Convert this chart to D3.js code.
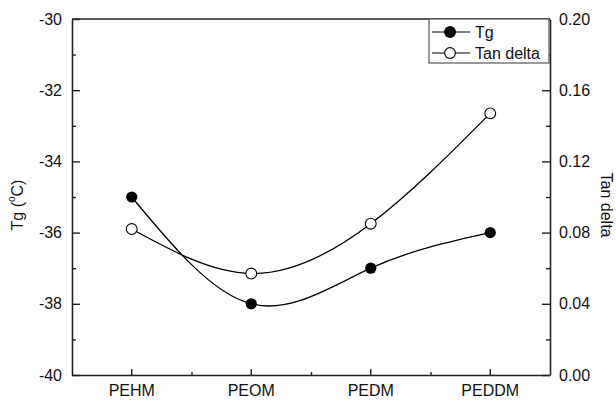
<!DOCTYPE html>
<html>
<head>
<meta charset="utf-8">
<script src="https://cdn.jsdelivr.net/npm/d3@7"></script>
<style>
  body { margin: 0; background: #fff; }
  svg { font-family: "Liberation Sans", Arial, sans-serif; }
</style>
</head>
<body>
<svg id="chart" width="616" height="401"></svg>
<script>
// Chart data
const categories = ["PEHM", "PEOM", "PEDM", "PEDDM"];
const tgValues = [-35, -38, -37, -36];
const tanDeltaValues = [0.082, 0.057, 0.085, 0.147];
const tgTicks = [-40, -38, -36, -34, -32, -30];
const tanTicks = [0.00, 0.04, 0.08, 0.12, 0.16, 0.20];

const svg = d3.select("#chart");
const margin = { left: 72, right: 66, top: 19, bottom: 26 };
const width = 616 - margin.left - margin.right;
const height = 401 - margin.top - margin.bottom;

const g = svg.append("g").attr("transform", `translate(${margin.left},${margin.top})`);

// Scales
const x = d3.scaleBand().domain(categories).range([0, width]).paddingInner(0).paddingOuter(0);
const xc = d => x(d) + x.bandwidth() / 2;
const yTg = d3.scaleLinear().domain([-40, -30]).range([height, 0]);
const yTan = d3.scaleLinear().domain([0, 0.2]).range([height, 0]);

const axisColor = "#222";
const fontSize = 16;

function styleAxis(sel) {
    sel.selectAll(".domain").attr("stroke", axisColor).attr("stroke-width", 1.6);
    sel.selectAll(".tick line").attr("stroke", axisColor).attr("stroke-width", 1.4);
    sel.selectAll("text").attr("fill", "#111").style("font-size", fontSize + "px")
        .style("font-family", "'Liberation Sans', Arial, sans-serif");
}

// Minor ticks (drawn first, under the main axes)
g.append("g")
    .call(d3.axisLeft(yTg).tickValues(d3.range(-39, -30, 2)).tickSize(-4).tickFormat(""))
    .call(s => s.select(".domain").remove())
    .call(styleAxis);
g.append("g").attr("transform", `translate(${width},0)`)
    .call(d3.axisRight(yTan).tickValues(d3.range(1, 10, 2).map(i => i * 0.02)).tickSize(-4).tickFormat(""))
    .call(s => s.select(".domain").remove())
    .call(styleAxis);
g.append("g").attr("transform", `translate(0,${height})`)
    .call(d3.axisBottom(d3.scaleLinear().domain([0, 4]).range([0, width]))
        .tickValues([1, 2, 3]).tickSize(-3).tickFormat(""))
    .call(s => s.select(".domain").remove())
    .call(styleAxis);

// Main axes (plain hyphen for negatives, like the original)
g.append("g")
    .call(d3.axisLeft(yTg).tickValues(tgTicks).tickSizeInner(-8).tickSizeOuter(0).tickPadding(10)
        .tickFormat(d => String(d)))
    .call(styleAxis);

g.append("g").attr("transform", `translate(${width},0)`)
    .call(d3.axisRight(yTan).tickValues(tanTicks).tickSizeInner(-8).tickSizeOuter(0).tickPadding(9)
        .tickFormat(d3.format(".2f")))
    .call(styleAxis);

g.append("g").attr("transform", `translate(0,${height})`)
    .call(d3.axisBottom(x).tickSizeInner(-6).tickSizeOuter(0).tickPadding(10))
    .call(styleAxis);

// Top frame line
g.append("line")
    .attr("x1", 0).attr("x2", width).attr("y1", 0).attr("y2", 0)
    .attr("stroke", axisColor).attr("stroke-width", 1.6);

// Axis titles
const leftTitle = svg.append("text")
    .attr("transform", `translate(17,${margin.top + height / 2 + 8}) rotate(-90)`)
    .attr("text-anchor", "middle")
    .attr("dominant-baseline", "central")
    .style("font-size", fontSize + "px")
    .attr("fill", "#111");
leftTitle.append("tspan").text("Tg (");
leftTitle.append("tspan").text("o").attr("baseline-shift", "super").style("font-size", "10px");
leftTitle.append("tspan").text("C)");

svg.append("text")
    .attr("transform", `translate(606,${margin.top + height / 2 + 8}) rotate(90)`)
    .attr("text-anchor", "middle")
    .attr("dominant-baseline", "central")
    .style("font-size", fontSize + "px")
    .attr("fill", "#111")
    .text("Tan delta");

// Spline lines
const tgLine = d3.line().x((d, i) => xc(categories[i])).y(d => yTg(d)).curve(d3.curveNatural);
const tanLine = d3.line().x((d, i) => xc(categories[i])).y(d => yTan(d)).curve(d3.curveNatural);

g.append("path").datum(tgValues)
    .attr("d", tgLine).attr("fill", "none").attr("stroke", "#000").attr("stroke-width", 1.3);
g.append("path").datum(tanDeltaValues)
    .attr("d", tanLine).attr("fill", "none").attr("stroke", "#000").attr("stroke-width", 1.3);

// Markers
g.selectAll(".tg-pt").data(tgValues).enter().append("circle")
    .attr("class", "tg-pt")
    .attr("cx", (d, i) => xc(categories[i]))
    .attr("cy", d => yTg(d))
    .attr("r", 5.6)
    .attr("fill", "#000");

g.selectAll(".tan-pt").data(tanDeltaValues).enter().append("circle")
    .attr("class", "tan-pt")
    .attr("cx", (d, i) => xc(categories[i]))
    .attr("cy", d => yTan(d))
    .attr("r", 5.4)
    .attr("fill", "#fff")
    .attr("stroke", "#000")
    .attr("stroke-width", 1.1);

// Legend
const legend = g.append("g").attr("transform", `translate(${width - 121},0)`);
legend.append("rect")
    .attr("x", 0).attr("y", 0).attr("width", 120).attr("height", 44)
    .attr("fill", "#fff").attr("stroke", "#555").attr("stroke-width", 1.2);

const legendItems = [
    { label: "Tg", fill: "#000" },
    { label: "Tan delta", fill: "#fff" }
];
legendItems.forEach((item, i) => {
    const row = legend.append("g").attr("transform", `translate(0,${13 + i * 21})`);
    row.append("line").attr("x1", 3).attr("x2", 41).attr("y1", 0).attr("y2", 0)
        .attr("stroke", "#000").attr("stroke-width", 1.2);
    row.append("circle").attr("cx", 21).attr("cy", 0).attr("r", 5.4)
        .attr("fill", item.fill).attr("stroke", "#000").attr("stroke-width", 1.1);
    row.append("text").attr("x", 46).attr("y", 0).attr("dy", "0.35em")
        .style("font-size", fontSize + "px").attr("fill", "#111").text(item.label);
});
</script>
</body>
</html>
